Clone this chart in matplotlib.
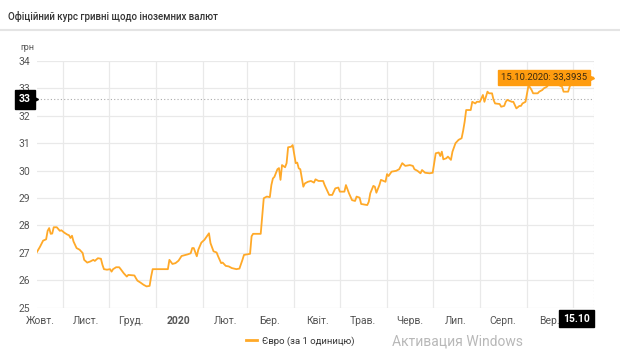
import matplotlib
matplotlib.use("Agg")

import matplotlib.pyplot as plt
import matplotlib.transforms as mtransforms
from matplotlib.lines import Line2D
import pandas as pd

plt.rcParams['font.family'] = ['Roboto', 'DejaVu Sans']

# EUR official rate, UAH per 1 EUR
dates = [
    "2019-10-15", "2019-10-17", "2019-10-19", "2019-10-21", "2019-10-22", "2019-10-23",
    "2019-10-24", "2019-10-25", "2019-10-26", "2019-10-28", "2019-10-30", "2019-10-31",
    "2019-11-02", "2019-11-04", "2019-11-05", "2019-11-06", "2019-11-07", "2019-11-08",
    "2019-11-10", "2019-11-12", "2019-11-14", "2019-11-15", "2019-11-17", "2019-11-19",
    "2019-11-21", "2019-11-22", "2019-11-24", "2019-11-26", "2019-11-27", "2019-11-28",
    "2019-11-30", "2019-12-02", "2019-12-03", "2019-12-04", "2019-12-06", "2019-12-08",
    "2019-12-09", "2019-12-11", "2019-12-12", "2019-12-13", "2019-12-14", "2019-12-18",
    "2019-12-19", "2019-12-20", "2019-12-22", "2019-12-24", "2019-12-26", "2019-12-28",
    "2019-12-29", "2019-12-30", "2020-01-02", "2020-01-08", "2020-01-09", "2020-01-10",
    "2020-01-12", "2020-01-14", "2020-01-16", "2020-01-18", "2020-01-22", "2020-01-24",
    "2020-01-25", "2020-01-26", "2020-01-28", "2020-01-29", "2020-01-31", "2020-02-02",
    "2020-02-05", "2020-02-06", "2020-02-08", "2020-02-10", "2020-02-11", "2020-02-13",
    "2020-02-14", "2020-02-16", "2020-02-18", "2020-02-20", "2020-02-23", "2020-02-25",
    "2020-02-27", "2020-02-28", "2020-03-03", "2020-03-04", "2020-03-05", "2020-03-10",
    "2020-03-11", "2020-03-12", "2020-03-14", "2020-03-16", "2020-03-17", "2020-03-18",
    "2020-03-19", "2020-03-21", "2020-03-22", "2020-03-23", "2020-03-24", "2020-03-26",
    "2020-03-27", "2020-03-28", "2020-03-30", "2020-03-31", "2020-04-02", "2020-04-03",
    "2020-04-04", "2020-04-05", "2020-04-07", "2020-04-08", "2020-04-10", "2020-04-12",
    "2020-04-14", "2020-04-15", "2020-04-17", "2020-04-20", "2020-04-21", "2020-04-22",
    "2020-04-24", "2020-04-26", "2020-04-28", "2020-04-30", "2020-05-01", "2020-05-04",
    "2020-05-05", "2020-05-07", "2020-05-09", "2020-05-11", "2020-05-12", "2020-05-14",
    "2020-05-15", "2020-05-19", "2020-05-20", "2020-05-21", "2020-05-23", "2020-05-24",
    "2020-05-25", "2020-05-27", "2020-05-28", "2020-05-31", "2020-06-01", "2020-06-02",
    "2020-06-04", "2020-06-07", "2020-06-09", "2020-06-11", "2020-06-13", "2020-06-16",
    "2020-06-18", "2020-06-19", "2020-06-21", "2020-06-23", "2020-06-24", "2020-06-26",
    "2020-06-29", "2020-07-01", "2020-07-02", "2020-07-03", "2020-07-05", "2020-07-06",
    "2020-07-07", "2020-07-08", "2020-07-10", "2020-07-11", "2020-07-13", "2020-07-14",
    "2020-07-16", "2020-07-18", "2020-07-20", "2020-07-21", "2020-07-22", "2020-07-23",
    "2020-07-26", "2020-07-27", "2020-07-29", "2020-07-30", "2020-08-01", "2020-08-02",
    "2020-08-03", "2020-08-04", "2020-08-06", "2020-08-07", "2020-08-09", "2020-08-10",
    "2020-08-11", "2020-08-14", "2020-08-15", "2020-08-17", "2020-08-18", "2020-08-19",
    "2020-08-22", "2020-08-23", "2020-08-24", "2020-08-25", "2020-08-27", "2020-08-28",
    "2020-08-29", "2020-08-31", "2020-09-01", "2020-09-02", "2020-09-04", "2020-09-05",
    "2020-09-08", "2020-09-09", "2020-09-11", "2020-09-12", "2020-09-14", "2020-09-16",
    "2020-09-18", "2020-09-21", "2020-09-24", "2020-09-25", "2020-09-28", "2020-09-29",
    "2020-09-30", "2020-10-02", "2020-10-06", "2020-10-09", "2020-10-13", "2020-10-15",
]
rates = [
    27.03, 27.22, 27.44, 27.49, 27.80, 27.90,
    27.69, 27.70, 27.93, 27.93, 27.80, 27.82,
    27.73, 27.66, 27.64, 27.54, 27.62, 27.41,
    27.17, 27.11, 26.99, 26.74, 26.64, 26.68,
    26.74, 26.70, 26.80, 26.78, 26.56, 26.40,
    26.38, 26.40, 26.31, 26.40, 26.47, 26.47,
    26.40, 26.25, 26.19, 26.13, 26.19, 26.17,
    26.07, 25.98, 25.91, 25.83, 25.77, 25.79,
    26.13, 26.40, 26.40, 26.40, 26.40, 26.74,
    26.59, 26.62, 26.71, 26.88, 26.94, 26.98,
    27.17, 27.17, 26.87, 27.11, 27.37, 27.47,
    27.71, 27.35, 27.05, 27.01, 26.87, 26.62,
    26.64, 26.52, 26.50, 26.44, 26.40, 26.42,
    26.74, 26.92, 26.96, 27.60, 27.69, 27.69,
    28.32, 28.99, 29.05, 29.03, 29.47, 29.71,
    29.77, 30.05, 30.09, 29.66, 30.20, 30.12,
    30.27, 30.85, 30.87, 30.93, 30.27, 30.29,
    30.08, 30.05, 29.41, 29.53, 29.59, 29.62,
    29.56, 29.68, 29.62, 29.62, 29.47, 29.35,
    29.11, 29.11, 29.35, 29.38, 29.23, 29.23,
    29.47, 29.17, 28.92, 28.89, 29.05, 29.01,
    28.78, 28.74, 28.86, 29.17, 29.44, 29.41,
    29.19, 29.47, 29.66, 29.59, 29.87, 29.80,
    29.96, 29.99, 30.05, 30.27, 30.17, 30.20,
    30.17, 30.05, 29.99, 29.90, 30.02, 29.92,
    29.90, 29.92, 30.27, 30.63, 30.66, 30.53,
    30.69, 30.41, 30.45, 30.51, 30.39, 30.69,
    31.00, 31.12, 31.18, 31.45, 31.78, 32.21,
    32.21, 32.51, 32.45, 32.51, 32.51, 32.64,
    32.76, 32.51, 32.88, 32.82, 32.82, 32.58,
    32.45, 32.43, 32.33, 32.36, 32.51, 32.58,
    32.51, 32.51, 32.39, 32.27, 32.36, 32.36,
    32.45, 32.51, 32.82, 33.12, 32.94, 32.82,
    32.82, 32.88, 32.94, 33.00, 33.06, 33.20,
    33.25, 33.15, 33.06, 32.88, 32.88, 33.06,
    33.18, 33.25, 33.35, 33.30, 33.40, 33.3935,
]

month_labels = ["Жовт.", "Лист.", "Груд.", "2020", "Лют.", "Бер.", "Квіт.",
                "Трав.", "Черв.", "Лип.", "Серп.", "Вер."]
label_dates = ["2019-10-17", "2019-11-16", "2019-12-16", "2020-01-16", "2020-02-16",
               "2020-03-16", "2020-04-16", "2020-05-16", "2020-06-16", "2020-07-16",
               "2020-08-16", "2020-09-16"]
y_ticks = [25, 26, 27, 28, 29, 30, 31, 32, 33, 34]
hover_value = 32.6

x = pd.to_datetime(dates)
start = pd.Timestamp("2019-10-15")
end = pd.Timestamp("2020-10-15")
orange = "#FFA928"

fig = plt.figure(figsize=(6.2, 3.5), dpi=100)
ax = fig.add_axes([37 / 620, 1 - 307.5 / 350, 557 / 620, 246.5 / 350])

ax.plot(x, rates, color=orange, lw=1.3, zorder=3)

ax.set_xlim(start, end)
ax.set_ylim(25, 34)
ax.set_yticks(y_ticks)
ax.set_xticks(pd.date_range("2019-11-01", "2020-10-01", freq="MS"))
ax.set_xticklabels([])
ax.set_xticks(pd.to_datetime(label_dates), minor=True)
ax.set_xticklabels(month_labels, minor=True)
for lbl in ax.get_xticklabels(minor=True):
    if lbl.get_text() == "2020":
        lbl.set_fontweight("bold")
        lbl.set_color("#222222")

ax.grid(True, which="major", color="#e9e9e9", lw=0.9)
ax.tick_params(which="both", length=0, labelsize=7.5, labelcolor="#555555")
ax.tick_params(axis="x", which="minor", pad=6)
ax.tick_params(axis="y", pad=5)
for s in ax.spines.values():
    s.set_visible(False)

# crosshair
ax.axhline(hover_value, color="#aaaaaa", ls=(0, (1, 2)), lw=0.8, zorder=2)
ax.axvline(end, color="#aaaaaa", ls=(0, (1, 2)), lw=0.8, zorder=2)

# left value label
ax.annotate(f"{round(hover_value):d}", xy=(0, hover_value), xycoords=("axes fraction", "data"),
            xytext=(-6, 0), textcoords="offset pixels", ha="right", va="center",
            fontsize=7.5, fontweight="bold", color="white", zorder=5, annotation_clip=False,
            bbox=dict(boxstyle="square,pad=0.4", fc="black", ec="black"))
ax.plot([0], [hover_value], marker=">", ms=4, color="black", clip_on=False, zorder=5,
        transform=mtransforms.blended_transform_factory(ax.transAxes, ax.transData)
        + mtransforms.ScaledTranslation(-2 / 100, 0, fig.dpi_scale_trans))

# tooltip for the last point
last_val = f"{rates[-1]:.4f}".replace(".", ",")
ax.annotate(f"{end.strftime('%d.%m.%Y')}: {last_val}", xy=(end, rates[-1]),
            xytext=(-7, 0), textcoords="offset pixels", ha="right", va="center",
            fontsize=6.8, color="#3a2a10", zorder=6, annotation_clip=False,
            bbox=dict(boxstyle="square,pad=0.35", fc="#FF9C0F", ec="#FF9C0F"))
ax.plot([end], [rates[-1]], marker=">", ms=5, color="#FF9C0F", clip_on=False, zorder=6,
        transform=ax.transData + mtransforms.ScaledTranslation(-3 / 100, 0, fig.dpi_scale_trans))

# bottom date label
ax.annotate(end.strftime("%d.%m"), xy=(end, 0), xycoords=("data", "axes fraction"),
            xytext=(-4, -11), textcoords="offset pixels", ha="right", va="center",
            fontsize=7.5, fontweight="bold", color="white", zorder=5, annotation_clip=False,
            bbox=dict(boxstyle="square,pad=0.35", fc="black", ec="black"))

# header
fig.text(8 / 620, 1 - 17 / 350, "Офіційний курс гривні щодо іноземних валют",
         fontsize=7.0, fontweight="medium", color="#333333", va="center", ha="left")
fig.add_artist(Line2D([0, 1], [1 - 30 / 350] * 2, color="#e4e4e4", lw=1.5))
fig.text(20 / 620, 1 - 48 / 350, "грн", fontsize=6.5, color="#555555", va="center")

# legend
fig.legend([Line2D([], [], color=orange, lw=2)], ["Євро (за 1 одиницю)"],
           loc="center", bbox_to_anchor=(300 / 620, 1 - 341 / 350), frameon=False,
           fontsize=6.8, handlelength=1.2, handletextpad=0.5, labelcolor="#333333")

fig.text(392 / 620, 1 - 348.5 / 350, "Активация Windows", fontsize=10, color="#b8b8b8",
         va="bottom", ha="left")

fig.savefig("out.png", dpi=100)
